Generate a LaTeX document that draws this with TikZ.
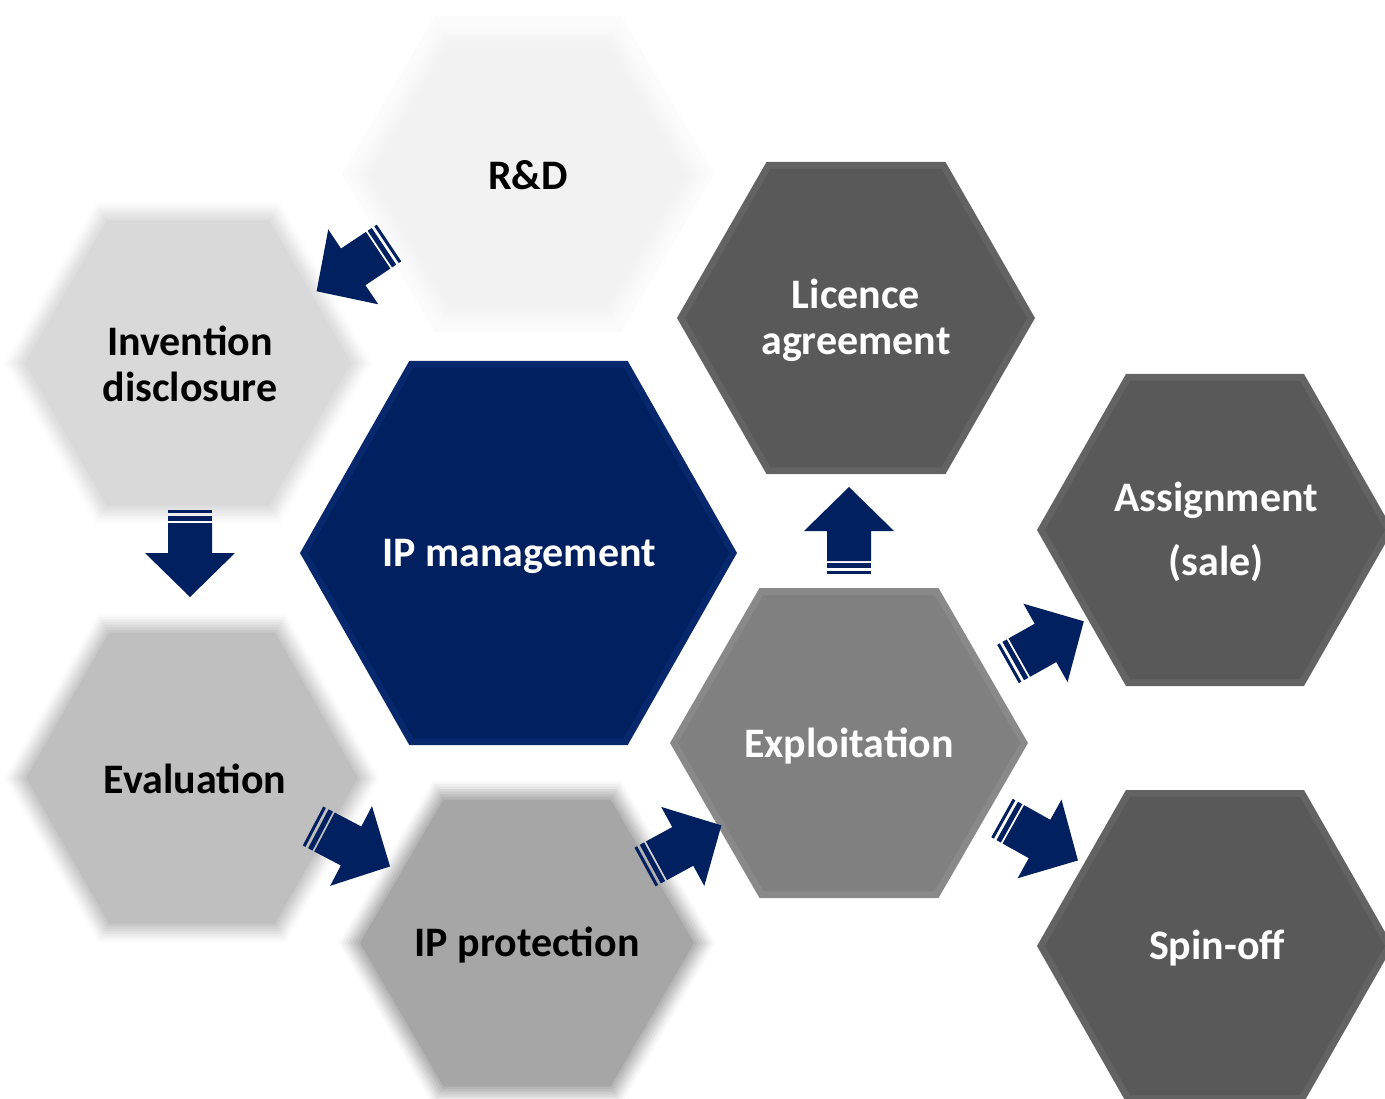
\documentclass[tikz,border=0pt]{standalone}
\usepackage{fontspec}
\setmainfont{Carlito}
\definecolor{navy}{HTML}{002060}
\definecolor{navyedge}{HTML}{08286E}
\definecolor{cRD}{HTML}{F2F2F2}
\definecolor{cInv}{HTML}{D9D9D9}
\definecolor{cEval}{HTML}{BFBFBF}
\definecolor{cProt}{HTML}{A6A6A6}
\definecolor{cExpl}{HTML}{808080}
\definecolor{cDark}{HTML}{595959}
\newcommand\hexat[5]{%
  \fill[#5] ({#1-(#3)},{#2}) -- ({#1-(#3)/2},{#2-(#4)}) -- ({#1+(#3)/2},{#2-(#4)})
    -- ({#1+(#3)},{#2}) -- ({#1+(#3)/2},{#2+(#4)}) -- ({#1-(#3)/2},{#2+(#4)}) -- cycle;}
\newcommand\softhex[5]{%
  \foreach \d/\o in {10/.07,7/.1,4/.14,1/.18,-2/.24,-5/.3,-8/.4}{%
    \hexat{#1}{#2}{#3+\d}{#4+\d*0.87}{#5,opacity=\o}}%
  \hexat{#1}{#2}{#3-11}{#4-9.5}{#5}}
\newcommand\bevelhex[6]{%
  \hexat{#1}{#2}{#3}{#4}{#6}%
  \hexat{#1}{#2}{#3-8}{#4-7}{#5}}
\newcommand\blockarrow[3]{%
  \begin{scope}[shift={(#1,#2)},rotate=#3]
    \fill[navy] (0,-22) rectangle (3,22);
    \fill[navy] (6,-22) rectangle (11,22);
    \fill[navy] (13,-22) -- (43,-22) -- (43,-45) -- (87,0) -- (43,45) -- (43,22) -- (13,22) -- cycle;
  \end{scope}}
\tikzset{
  lbl/.style={font=\fontsize{42}{46}\selectfont\bfseries, align=center, inner sep=0pt},
  dlbl/.style={lbl, text=black},
  wlbl/.style={lbl, text=white}
}
\begin{document}
\begin{tikzpicture}[x=1pt,y=-1pt]
  \useasboundingbox (0,0) rectangle (1385,1099);
  \clip (0,0) rectangle (1385,1099);
  \fill[white] (0,0) rectangle (1385,1099);
  % faint outer glow of R&D
  \hexat{528}{174}{186}{158}{cRD,opacity=.3}
  \softhex{528}{175}{168}{140}{cRD}
  \softhex{188}{363}{174}{152}{cInv}
  \softhex{192}{778}{177}{155}{cEval}
  \softhex{527}{943}{178}{153}{cProt}
  \bevelhex{849}{743}{179}{155}{cExpl}{cExpl!93!white}
  \bevelhex{856}{318}{179}{156}{cDark}{cDark!94!white}
  \bevelhex{1215}{530}{178}{156}{cDark}{cDark!94!white}
  \bevelhex{1215}{946}{178}{156}{cDark}{cDark!94!white}
  \bevelhex{518.5}{553}{218.5}{192}{navy}{navyedge}

  \node[dlbl] (rd) at (528,175) {R\&D};
  \node[dlbl] (inv) at (190,364) {Invention\\disclosure};
  \node[dlbl] (eval) at (195,779) {Evaluation};
  \node[dlbl] (prot) at (527,945) {IP protection};
  \node[wlbl] (mgmt) at (519,556) {IP management};
  \node[wlbl] (lic) at (856,320) {Licence\\agreement};
  \node[wlbl] (expl) at (849,746) {Exploitation};
  \node[wlbl] (assign) at (1216,532) {Assignment\\[18pt](sale)};
  \node[wlbl] (spin) at (1217,948) {Spin-off};

  \blockarrow{389}{243}{213.7}
  \blockarrow{190}{510}{270}
  \blockarrow{313}{826}{-27.7}
  \blockarrow{645}{867}{28.6}
  \blockarrow{849}{574}{90}
  \blockarrow{1008}{664}{29.4}
  \blockarrow{1002}{818}{-29.2}
\end{tikzpicture}
\end{document}
